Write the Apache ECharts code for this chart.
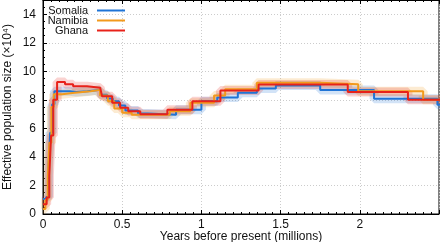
<!DOCTYPE html>
<html>
<head>
<meta charset="utf-8">
<script src="https://cdn.jsdelivr.net/npm/echarts@6/dist/echarts.min.js"></script>
<style>
html, body { margin: 0; padding: 0; background: #fff; }
#chart { width: 440px; height: 242px; }
</style>
</head>
<body>
<div id="chart"></div>
<script>
// years before present (millions) where each step starts, and Ne (x10^4)
var somaliaX = [0, 0.02, 0.035, 0.045, 0.058, 0.072, 0.17, 0.21, 0.28, 0.36, 0.405, 0.44, 0.48, 0.52, 0.6, 0.66, 0.84, 1.0, 1.1, 1.23, 1.35, 1.47, 1.75, 2.09, 2.49, 2.52];
var somaliaY = [1.05, 1.2, 3.3, 5.7, 7.7, 8.6, 8.55, 8.6, 8.7, 8.35, 8.1, 7.9, 7.6, 7.25, 7.05, 6.95, 7.3, 7.9, 8.16, 8.5, 8.8, 9.0, 8.7, 8.07, 7.65, 7.65];

var namibiaX = [0, 0.015, 0.03, 0.04, 0.053, 0.068, 0.12, 0.2, 0.3, 0.36, 0.41, 0.45, 0.5, 0.56, 0.8, 0.93, 1.08, 1.15, 1.35, 1.75, 1.99, 2.4, 2.52];
var namibiaY = [0.35, 1.0, 2.5, 5.0, 7.5, 8.4, 8.5, 8.6, 8.7, 8.3, 7.9, 7.4, 7.1, 6.95, 7.2, 7.8, 8.3, 8.75, 9.2, 9.1, 8.6, 8.0, 8.0];

var ghanaX = [0, 0.023, 0.04, 0.051, 0.065, 0.089, 0.139, 0.19, 0.278, 0.361, 0.373, 0.437, 0.487, 0.538, 0.614, 0.785, 0.943, 1.12, 1.361, 1.924, 2.304, 2.52];
var ghanaY = [0.68, 1.15, 2.7, 5.5, 8.0, 9.25, 9.1, 8.95, 8.85, 8.75, 8.25, 7.8, 7.45, 7.2, 7.0, 7.3, 7.9, 8.65, 9.08, 8.56, 8.0, 8.0];

var xTicks = [0, 0.5, 1, 1.5, 2];
var yTicks = [0, 2, 4, 6, 8, 10, 12, 14];

var names = ['Somalia', 'Namibia', 'Ghana'];
var colors = ['#1f74d6', '#f29a1c', '#e8221a'];

function pairs(xs, ys) {
    var out = [];
    for (var i = 0; i < xs.length; i++) out.push([xs[i], ys[i]]);
    return out;
}
var allData = [pairs(somaliaX, somaliaY), pairs(namibiaX, namibiaY), pairs(ghanaX, ghanaY)];

var FontColor = '#111';
var font = 'Liberation Sans, Arial, sans-serif';

var series = [];
// wide pale band behind each curve (bootstrap spread)
for (var i = 0; i < 3; i++) {
    series.push({
        type: 'line', step: 'end', data: allData[i], showSymbol: false, silent: true,
        lineStyle: { color: colors[i], width: 9, opacity: 0.2 },
        z: 1
    });
}
for (var i = 0; i < 3; i++) {
    series.push({
        name: names[i], type: 'line', step: 'end', data: allData[i], showSymbol: false,
        lineStyle: { color: colors[i], width: 2 },
        itemStyle: { color: colors[i] },
        z: 3 + i
    });
}

var legends = [];
for (var i = 0; i < 3; i++) {
    legends.push({
        data: [names[i]],
        right: 315, top: 5 + i * 10,
        align: 'right',
        icon: 'rect', itemWidth: 28, itemHeight: 2,
        padding: 0,
        textStyle: { fontFamily: font, fontSize: 11, lineHeight: 10, color: FontColor, padding: [0, 4, 0, 0] }
    });
}

var option = {
    animation: false,
    backgroundColor: '#fff',
    legend: legends,
    grid: {
        left: 43, right: 1, top: 0, bottom: 28, containLabel: false, outerBoundsMode: 'none',
        show: true, borderColor: '#000', borderWidth: 1
    },
    xAxis: [
        {
            type: 'value', min: 0, max: 2.5, interval: 0.5, position: 'bottom',
            name: 'Years before present (millions)', nameLocation: 'middle', nameGap: 17, nameMoveOverlap: false,
            nameTextStyle: { fontFamily: font, fontSize: 12, color: FontColor },
            axisLine: { show: true, lineStyle: { color: '#000' } },
            axisTick: { show: true, inside: true, length: 4, lineStyle: { color: '#000' } },
            minorTick: { show: true, splitNumber: 10, length: 2, lineStyle: { color: '#000' } },
            axisLabel: {
                showMaxLabel: false, margin: 5, fontFamily: font, fontSize: 12, color: FontColor,
                formatter: function (v) { return xTicks.indexOf(v) >= 0 ? String(v) : ''; }
            },
            splitLine: { show: true, lineStyle: { color: '#ccc', type: [1, 2] } }
        },
        {
            type: 'value', min: 0, max: 2.5, interval: 0.5, position: 'top',
            axisLine: { show: true, lineStyle: { color: '#000' } },
            axisTick: { show: true, inside: true, length: 4, lineStyle: { color: '#000' } },
            minorTick: { show: true, splitNumber: 10, length: 2, lineStyle: { color: '#000' } },
            axisLabel: { show: false },
            splitLine: { show: false }
        }
    ],
    yAxis: [
        {
            type: 'value', min: 0, max: 15, interval: 2,
            name: 'Effective population size (\u00d710\u2074)', nameLocation: 'middle', nameGap: 29, nameMoveOverlap: false,
            nameTextStyle: { fontFamily: font, fontSize: 12, color: FontColor },
            axisLine: { show: true, lineStyle: { color: '#000' } },
            axisTick: { show: true, inside: true, length: 4, lineStyle: { color: '#000' } },
            minorTick: { show: true, splitNumber: 4, length: 2, lineStyle: { color: '#000' } },
            axisLabel: {
                margin: 7, fontFamily: font, fontSize: 12, color: FontColor,
                formatter: function (v) { return yTicks.indexOf(v) >= 0 ? String(v) : ''; }
            },
            splitLine: { show: true, lineStyle: { color: '#ccc', type: [1, 2] } }
        }
    ],
    series: series
};

var chart = echarts.init(document.getElementById('chart'), null, { renderer: 'canvas' });
chart.setOption(option);
</script>
</body>
</html>
